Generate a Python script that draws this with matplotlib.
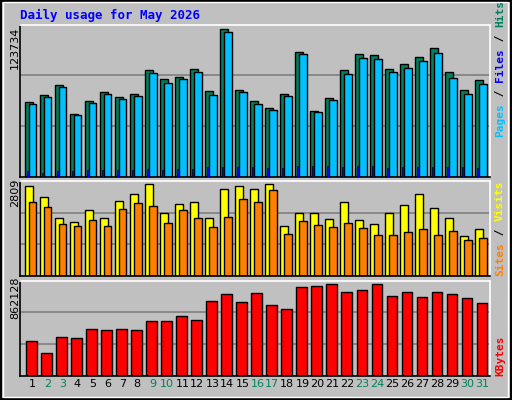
import matplotlib
matplotlib.use("Agg")
import matplotlib.pyplot as plt
from matplotlib.patches import Rectangle

days = list(range(1, 32))
weekend = [2, 3, 9, 10, 16, 17, 23, 24, 30, 31]

hits = [62440, 68320, 76720, 52360, 63280, 70840, 66640, 69160, 89320, 81760, 83440,
        90160, 71680, 123734, 72520, 63280, 57400, 69160, 104440, 54880, 65800, 89320,
        102760, 101920, 90160, 94360, 100240, 107800, 87640, 72520, 80920]
files = [60760, 66640, 75040, 51520, 61600, 69160, 64960, 67480, 86800, 78400, 81760,
         87640, 68320, 121240, 70840, 60760, 55720, 67480, 102760, 54040, 64120, 85960,
         99400, 98560, 87640, 91000, 96880, 103600, 82600, 69160, 77560]
pages = [4760, 3080, 4760, 4760, 5600, 5600, 5600, 5600, 6440, 5600, 6440, 6440, 8120,
         8120, 8120, 8120, 7280, 7280, 8960, 8960, 8960, 8120, 8960, 8960, 7280, 8120,
         8120, 8120, 8120, 8120, 7280]
sites = [2749, 2413, 1771, 1649, 2016, 1771, 2291, 2504, 2809, 1924, 2199, 2260, 1771,
         2657, 2749, 2657, 2809, 1527, 1924, 1924, 1741, 2260, 1710, 1588, 1924, 2168,
         2504, 2077, 1771, 1222, 1435]
visits = [2260, 2107, 1588, 1527, 1710, 1527, 2046, 2229, 2138, 1619, 2016, 1771, 1496,
          1802, 2352, 2260, 2626, 1283, 1680, 1558, 1496, 1619, 1466, 1252, 1252, 1344,
          1435, 1252, 1374, 1099, 1160]
kbytes = [324038, 210782, 361790, 352352, 437294, 427856, 437294, 427856, 512798, 512798,
          559988, 522236, 701558, 767624, 692120, 777062, 663806, 626054, 833690, 843128,
          862128, 786500, 805376, 862128, 748748, 786500, 739310, 786500, 767624, 729872,
          682682]

W, H = 512, 400
fig = plt.figure(figsize=(W / 100, H / 100), dpi=100, facecolor="#c0c0c0")
mono = "DejaVu Sans Mono"


def px_axes(x0, y0, x1, y1):
    ax = fig.add_axes([x0 / W, 1 - y1 / H, (x1 - x0) / W, (y1 - y0) / H])
    ax.set_facecolor("#c0c0c0")
    ax.set_xlim(0.234, 31.55)
    ax.set_xticks([])
    ax.set_yticks([])
    for s in ["left", "bottom"]:
        ax.spines[s].set_color("black")
    for s in ["top", "right"]:
        ax.spines[s].set_color("white")
    for s in ax.spines.values():
        s.set_linewidth(1.2)
    return ax


def grid(ax, top):
    for f in (1 / 3, 2 / 3):
        ax.axhline(top * f, color="#808080", lw=1.2, zorder=0)


bk = dict(edgecolor="black", linewidth=1, zorder=2)

# top panel
ax1 = px_axes(20, 24.7, 490, 176.7)
top1 = max(hits) / 0.969
ax1.set_ylim(0, top1)
grid(ax1, top1)
ax1.bar([d - 0.167 for d in days], hits, width=0.53, color="#00805c", **bk)
ax1.bar([d + 0.09 for d in days], files, width=0.48, color="#00c0ff", **bk)
ax1.bar([d - 0.23 for d in days], pages, width=0.13, color="#0000ff", edgecolor="black",
        linewidth=0.5, zorder=3)

# middle panel
ax2 = px_axes(20, 180.7, 490, 276.3)
top2 = max(sites) / 0.962
ax2.set_ylim(0, top2)
grid(ax2, top2)
ax2.bar([d - 0.167 for d in days], sites, width=0.53, color="#ffff00", **bk)
ax2.bar([d + 0.09 for d in days], visits, width=0.48, color="#ff8000", **bk)

# bottom panel
ax3 = px_axes(20, 280.7, 490, 375.7)
top3 = max(kbytes) / 0.961
ax3.set_ylim(0, top3)
grid(ax3, top3)
ax3.bar(days, kbytes, width=0.69, color="#ff0000", **bk)

for d in days:
    ax3.text(d + 0.05, -0.09, str(d), transform=ax3.get_xaxis_transform(),
             ha="center", va="center", fontsize=8, family="DejaVu Sans",
             color="#00805c" if d in weekend else "black")

fig.text(20 / W, 1 - 15 / H, "Daily usage for May 2026", color="#0000ff",
         family=mono, weight="bold", fontsize=9, va="center")

fig.text(15 / W, 1 - 48 / H, str(max(hits)), rotation=90, ha="center", va="center",
         fontsize=8, family="DejaVu Sans")
fig.text(15 / W, 1 - 193 / H, str(max(sites)), rotation=90, ha="center", va="center",
         fontsize=8, family="DejaVu Sans")
fig.text(15 / W, 1 - 298 / H, str(max(kbytes)), rotation=90, ha="center", va="center",
         fontsize=8, family="DejaVu Sans")


def right_label(parts, y_bottom):
    y = y_bottom
    for txt, col in parts:
        t = fig.text(500 / W, 1 - y / H, txt, rotation=90, ha="center", va="bottom",
                     color=col, family=mono, weight="bold", fontsize=8)
        y -= 6.6 * len(txt) + 1


right_label([("Pages", "#00c0ff"), (" / ", "black"), ("Files", "#0000ff"),
             (" / ", "black"), ("Hits", "#00805c")], 137)
right_label([("Sites", "#ff8000"), (" / ", "black"), ("Visits", "#ffff00")], 276)
right_label([("KBytes", "#ff0000")], 376)

# outer frame
fig.patches.append(Rectangle((0.002, 0.002), 0.996, 0.996, transform=fig.transFigure,
                             fill=False, edgecolor="black", lw=1.5))
fig.patches.append(Rectangle((0.006, 0.008), 0.986, 0.986, transform=fig.transFigure,
                             fill=False, edgecolor="white", lw=1))

fig.savefig("out.png", dpi=100, facecolor=fig.get_facecolor())
